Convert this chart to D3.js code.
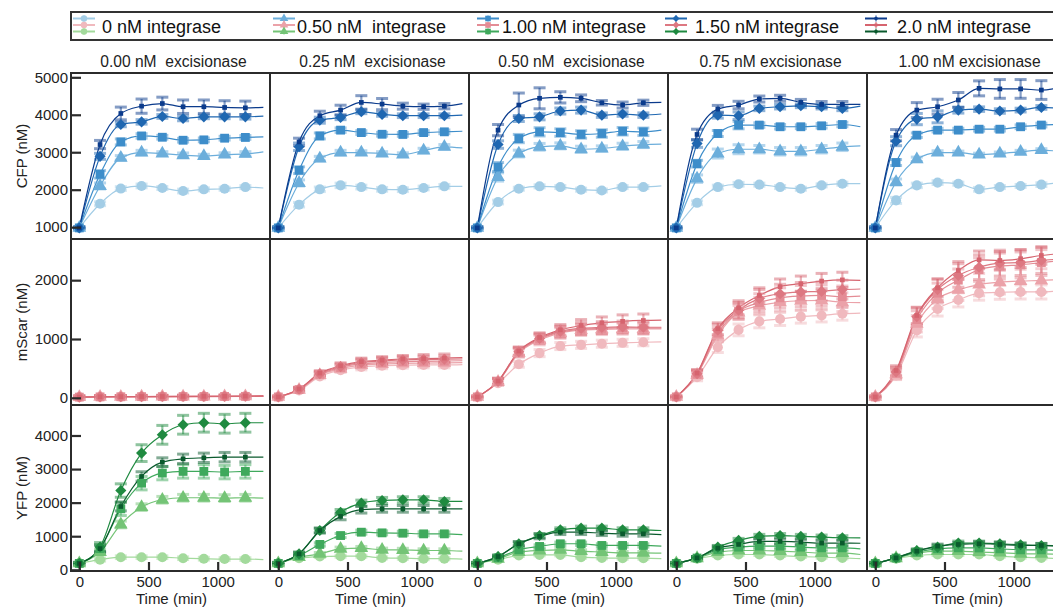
<!DOCTYPE html>
<html>
<head>
<meta charset="utf-8">
<script src="https://cdn.jsdelivr.net/npm/d3@7"></script>
<style>
  html, body { margin: 0; padding: 0; background: #fff; }
  svg { display: block; font-family: "Liberation Sans", Arial, Helvetica, sans-serif; }
</style>
</head>
<body>
<script>
// Sampling times (min) of the marked points; the trace continues to traceEnd.
const times = [0, 150, 300, 450, 600, 750, 900, 1050, 1200];
const traceEnd = 1330;

const integraseLabels = ["0 nM integrase", "0.50 nM  integrase", "1.00 nM integrase", "1.50 nM integrase", "2.0 nM integrase"];
const excisionaseLabels = ["0.00 nM  excisionase", "0.25 nM  excisionase", "0.50 nM  excisionase", "0.75 nM excisionase", "1.00 nM excisionase"];
const reporterLabels = ["CFP (nM)", "mScar (nM)", "YFP (nM)"];

const cfpTicks = [1000, 2000, 3000, 4000, 5000];
const mscarTicks = [0, 1000, 2000];
const yfpTicks = [0, 1000, 2000, 3000, 4000];
const timeTicks = [0, 500, 1000];

// CFP (nM). One row per integrase level; 9 sampled values then the value at traceEnd.
const cfp000 = [
  [980, 1625, 2030, 2100, 2045, 1965, 2010, 2025, 2070, 2045],
  [980, 2100, 2850, 2990, 2965, 2920, 2895, 2935, 2955, 3010],
  [980, 2410, 3275, 3435, 3400, 3320, 3330, 3375, 3395, 3410],
  [980, 2890, 3740, 3810, 3955, 3900, 3945, 3945, 3945, 3965],
  [980, 3205, 4035, 4230, 4300, 4215, 4215, 4195, 4185, 4200]];
const cfp025 = [
  [980, 1600, 2010, 2115, 2070, 2010, 2000, 2045, 2090, 2090],
  [980, 2180, 2830, 2990, 2990, 2965, 2935, 3045, 3145, 3115],
  [980, 2520, 3435, 3590, 3525, 3480, 3475, 3525, 3545, 3560],
  [980, 3145, 3855, 3930, 4080, 4010, 3975, 3975, 3975, 3990],
  [980, 3275, 3975, 4125, 4330, 4285, 4230, 4215, 4230, 4300]];
const cfp050 = [
  [980, 1670, 2025, 2090, 2070, 2000, 1980, 2070, 2070, 2100],
  [980, 2340, 2965, 3145, 3170, 3080, 3100, 3160, 3205, 3215],
  [980, 2605, 3365, 3545, 3525, 3475, 3500, 3560, 3545, 3590],
  [980, 3205, 3900, 3945, 4100, 4125, 3990, 4020, 3990, 4020],
  [980, 3590, 4260, 4440, 4465, 4440, 4320, 4260, 4320, 4330]];
const cfp075 = [
  [980, 1650, 2070, 2145, 2135, 2070, 2025, 2115, 2160, 2160],
  [980, 2295, 2965, 3080, 3080, 3025, 3025, 3080, 3145, 3170],
  [980, 2695, 3500, 3725, 3725, 3680, 3680, 3705, 3740, 3680],
  [980, 3230, 3990, 3975, 4170, 4215, 4240, 4215, 4170, 4230],
  [980, 3475, 4150, 4260, 4420, 4440, 4330, 4275, 4275, 4275]];
const cfp100 = [
  [980, 1715, 2115, 2190, 2160, 2010, 2070, 2100, 2135, 2190],
  [980, 2205, 2810, 2990, 2990, 2935, 2965, 3010, 3055, 3025],
  [980, 2725, 3455, 3590, 3590, 3615, 3615, 3680, 3725, 3740],
  [980, 3295, 3885, 3945, 4125, 4150, 4100, 4125, 4195, 4170],
  [980, 3455, 4125, 4215, 4395, 4705, 4690, 4690, 4660, 4725]];

// mScar (nM)
const mscar000 = [
  [12, 14, 16, 18, 19, 20, 21, 22, 23, 25],
  [12, 15, 17, 19, 20, 21, 22, 23, 24, 26],
  [12, 16, 18, 20, 21, 22, 23, 24, 25, 28],
  [12, 17, 19, 21, 22, 23, 24, 25, 27, 30],
  [12, 18, 20, 22, 23, 24, 26, 27, 29, 32]];
const mscar025 = [
  [15, 125, 365, 470, 525, 545, 555, 560, 560, 565],
  [15, 135, 385, 495, 555, 575, 585, 590, 595, 600],
  [15, 140, 400, 515, 580, 600, 615, 620, 625, 630],
  [15, 145, 410, 530, 600, 625, 645, 650, 655, 660],
  [15, 150, 420, 545, 615, 640, 660, 665, 675, 685]];
const mscar050 = [
  [15, 250, 570, 760, 880, 900, 920, 935, 945, 950],
  [15, 270, 760, 980, 1100, 1150, 1165, 1170, 1170, 1170],
  [15, 275, 775, 1000, 1115, 1165, 1180, 1190, 1185, 1185],
  [15, 280, 785, 1010, 1130, 1180, 1195, 1205, 1200, 1200],
  [15, 285, 795, 1025, 1155, 1230, 1275, 1300, 1315, 1320]];
const mscar075 = [
  [15, 350, 860, 1155, 1300, 1340, 1380, 1400, 1430, 1440],
  [15, 390, 1060, 1450, 1565, 1625, 1650, 1655, 1625, 1620],
  [15, 400, 1100, 1470, 1620, 1700, 1730, 1740, 1720, 1730],
  [15, 410, 1150, 1490, 1690, 1770, 1800, 1810, 1840, 1850],
  [15, 420, 1175, 1530, 1740, 1890, 1940, 1985, 2005, 1995]];
const mscar100 = [
  [15, 380, 1145, 1510, 1665, 1780, 1795, 1800, 1800, 1820],
  [15, 400, 1260, 1680, 1835, 1925, 1965, 1985, 1995, 2010],
  [15, 420, 1330, 1780, 2000, 2180, 2240, 2260, 2300, 2330],
  [15, 440, 1380, 1840, 2080, 2220, 2290, 2300, 2335, 2360],
  [15, 465, 1400, 1870, 2165, 2345, 2335, 2365, 2420, 2450]];

// YFP (nM)
const yfp000 = [
  [190, 300, 375, 375, 375, 345, 330, 320, 320, 305],
  [190, 530, 1350, 1865, 2085, 2145, 2145, 2135, 2145, 2135],
  [190, 630, 1815, 2580, 2880, 2930, 2930, 2910, 2930, 2930],
  [190, 680, 2360, 3475, 4020, 4320, 4380, 4350, 4380, 4380],
  [190, 630, 1885, 2780, 3205, 3305, 3335, 3355, 3355, 3355]];
const yfp025 = [
  [190, 345, 395, 405, 405, 355, 345, 330, 330, 320],
  [190, 375, 475, 625, 645, 595, 590, 575, 575, 555],
  [190, 425, 755, 1020, 1120, 1100, 1090, 1070, 1070, 1050],
  [190, 475, 1170, 1715, 1985, 2065, 2085, 2085, 2035, 2035],
  [190, 475, 1170, 1590, 1790, 1815, 1815, 1815, 1815, 1815]];
const yfp050 = [
  [190, 300, 425, 445, 445, 375, 355, 345, 345, 330],
  [190, 330, 525, 575, 595, 555, 530, 505, 505, 495],
  [190, 355, 595, 695, 775, 775, 725, 725, 725, 705],
  [190, 395, 775, 1020, 1190, 1240, 1240, 1190, 1190, 1170],
  [190, 395, 775, 995, 1120, 1120, 1090, 1070, 1070, 1050]];
const yfp075 = [
  [190, 330, 425, 455, 455, 425, 395, 375, 355, 330],
  [190, 345, 525, 575, 575, 555, 530, 495, 495, 455],
  [190, 350, 595, 675, 705, 705, 675, 655, 655, 625],
  [190, 355, 675, 875, 995, 1020, 995, 975, 955, 950],
  [190, 355, 645, 755, 845, 845, 825, 795, 795, 790]];
const yfp100 = [
  [190, 330, 425, 455, 455, 455, 405, 375, 355, 330],
  [190, 345, 495, 555, 555, 525, 510, 475, 475, 455],
  [190, 350, 525, 625, 655, 650, 625, 595, 595, 580],
  [190, 355, 575, 675, 795, 795, 775, 745, 725, 720],
  [190, 355, 555, 705, 755, 775, 755, 725, 725, 705]];

// Error half-widths (nM) at the sampled times
const cfpErr000 = [
  [25, 50, 50, 50, 40, 50, 40, 40, 40],
  [25, 80, 60, 60, 50, 60, 50, 50, 60],
  [25, 100, 80, 60, 50, 50, 50, 50, 50],
  [25, 80, 60, 60, 50, 60, 50, 50, 60],
  [25, 110, 170, 190, 170, 180, 180, 180, 180]];
const cfpErr025 = [
  [25, 60, 60, 60, 50, 50, 50, 50, 50],
  [25, 80, 60, 60, 50, 50, 50, 60, 60],
  [25, 90, 80, 60, 50, 50, 50, 50, 50],
  [25, 100, 80, 60, 50, 50, 50, 50, 50],
  [25, 100, 120, 130, 180, 150, 80, 70, 70]];
const cfpErr050 = [
  [25, 50, 40, 40, 40, 40, 40, 40, 40],
  [25, 110, 90, 90, 80, 80, 70, 80, 80],
  [25, 120, 110, 110, 100, 100, 100, 100, 100],
  [25, 100, 80, 80, 80, 80, 60, 60, 60],
  [25, 150, 320, 280, 150, 90, 60, 80, 70]];
const cfpErr075 = [
  [25, 50, 50, 50, 40, 40, 40, 40, 40],
  [25, 100, 120, 120, 100, 100, 100, 100, 100],
  [25, 90, 80, 100, 60, 60, 50, 60, 60],
  [25, 100, 80, 100, 60, 60, 50, 60, 60],
  [25, 140, 100, 100, 80, 80, 80, 80, 80]];
const cfpErr100 = [
  [25, 80, 60, 50, 40, 50, 40, 40, 50],
  [25, 80, 60, 50, 40, 40, 40, 40, 40],
  [25, 80, 60, 50, 50, 50, 50, 50, 50],
  [25, 120, 150, 160, 80, 60, 60, 50, 50],
  [25, 150, 200, 200, 200, 200, 250, 250, 250]];

const mscarErr000 = [
  [20, 20, 20, 20, 20, 20, 20, 20, 20],
  [20, 20, 20, 20, 20, 20, 20, 20, 20],
  [20, 20, 20, 20, 20, 20, 20, 20, 20],
  [20, 20, 20, 20, 20, 20, 20, 20, 20],
  [20, 20, 20, 20, 20, 20, 20, 20, 20]];
const mscarErr025 = [
  [15, 30, 40, 40, 50, 50, 50, 50, 50],
  [15, 30, 40, 40, 50, 50, 50, 50, 50],
  [15, 30, 40, 50, 60, 60, 60, 60, 60],
  [15, 30, 40, 50, 60, 60, 60, 60, 60],
  [15, 30, 40, 50, 60, 60, 60, 70, 70]];
const mscarErr050 = [
  [15, 40, 50, 60, 60, 60, 60, 60, 60],
  [15, 50, 70, 80, 90, 90, 90, 90, 90],
  [15, 50, 70, 80, 90, 90, 90, 90, 90],
  [15, 50, 70, 80, 90, 100, 100, 100, 100],
  [15, 50, 70, 80, 90, 100, 100, 110, 110]];
const mscarErr075 = [
  [15, 60, 90, 100, 110, 110, 110, 110, 110],
  [15, 60, 100, 120, 140, 150, 160, 160, 160],
  [15, 60, 100, 130, 150, 170, 180, 180, 180],
  [15, 60, 100, 130, 150, 160, 160, 160, 160],
  [15, 60, 100, 120, 130, 130, 130, 130, 130]];
const mscarErr100 = [
  [15, 70, 110, 120, 120, 120, 120, 120, 120],
  [15, 80, 140, 160, 180, 190, 200, 200, 200],
  [15, 80, 150, 170, 190, 200, 220, 220, 220],
  [15, 80, 150, 180, 200, 210, 220, 220, 220],
  [15, 80, 140, 150, 150, 150, 150, 150, 150]];

const yfpErr000 = [
  [30, 40, 40, 40, 40, 40, 40, 40, 40],
  [30, 80, 100, 100, 100, 100, 100, 100, 100],
  [30, 120, 200, 200, 200, 200, 200, 200, 200],
  [30, 130, 200, 250, 280, 280, 280, 280, 280],
  [30, 100, 130, 140, 130, 140, 140, 140, 140]];
const yfpErr025 = [
  [30, 30, 30, 30, 30, 30, 30, 30, 30],
  [30, 40, 40, 50, 50, 50, 50, 50, 50],
  [30, 40, 50, 60, 60, 60, 60, 60, 60],
  [30, 50, 70, 80, 90, 90, 90, 90, 90],
  [30, 50, 70, 100, 100, 100, 100, 100, 100]];
const yfpErr050 = [
  [30, 30, 30, 30, 30, 30, 30, 30, 30],
  [30, 40, 40, 40, 40, 40, 40, 40, 40],
  [30, 40, 50, 50, 50, 50, 50, 50, 50],
  [30, 40, 60, 60, 60, 60, 60, 60, 60],
  [30, 40, 60, 70, 70, 70, 70, 70, 70]];
const yfpErr075 = [
  [30, 30, 30, 30, 30, 30, 30, 30, 30],
  [30, 40, 50, 50, 50, 50, 50, 50, 50],
  [30, 40, 50, 60, 60, 60, 60, 60, 60],
  [30, 40, 50, 60, 60, 60, 60, 60, 60],
  [30, 40, 60, 70, 70, 70, 70, 70, 80]];
const yfpErr100 = [
  [30, 30, 30, 30, 30, 30, 30, 30, 30],
  [30, 40, 40, 40, 40, 40, 40, 40, 40],
  [30, 40, 50, 50, 50, 50, 50, 50, 50],
  [30, 40, 50, 60, 60, 60, 60, 60, 60],
  [30, 40, 50, 60, 60, 60, 60, 60, 60]];

// Colour ramps per reporter (lightest = 0 nM integrase)
const blues = ["#a3cde6", "#6caedb", "#3d8dca", "#1f67b1", "#0b3b8c"];
const reds = ["#f0b9be", "#eba2a9", "#e48c95", "#dd7882", "#d6646f"];
const greens = ["#a3da9c", "#74c476", "#3fa95c", "#1f8a40", "#0a5a2d"];

// ---- layout ----
const W = 1053, H = 611;
const gridLeft = 71, gridTop = 73, panelW = 199, panelH = 166;
const ink = "#2b2b2b";

const reporters = [
  { label: reporterLabels[0], data: [cfp000, cfp025, cfp050, cfp075, cfp100],
    err: [cfpErr000, cfpErr025, cfpErr050, cfpErr075, cfpErr100],
    colors: blues, domain: [684, 5115], ticks: cfpTicks },
  { label: reporterLabels[1], data: [mscar000, mscar025, mscar050, mscar075, mscar100],
    err: [mscarErr000, mscarErr025, mscarErr050, mscarErr075, mscarErr100],
    colors: reds, domain: [-122, 2700], ticks: mscarTicks },
  { label: reporterLabels[2], data: [yfp000, yfp025, yfp050, yfp075, yfp100],
    err: [yfpErr000, yfpErr025, yfpErr050, yfpErr075, yfpErr100],
    colors: greens, domain: [-36, 4908], ticks: yfpTicks }
];

// marker shapes by integrase level: circle, triangle, square, diamond, small dot
const shapes = [
  { type: d3.symbolCircle, size: 80, rot: 0 },
  { type: d3.symbolTriangle, size: 80, rot: 0 },
  { type: d3.symbolSquare, size: 78, rot: 0 },
  { type: d3.symbolSquare, size: 62, rot: 45 },
  { type: d3.symbolSquare, size: 22, rot: 0 }
];

const svg = d3.select("body").append("svg")
  .attr("width", W).attr("height", H);

const x = d3.scaleLinear().domain([-60, 1378]).range([0, panelW]);

reporters.forEach((rep, r) => {
  const y = d3.scaleLinear().domain(rep.domain).range([panelH, 0]);
  const top = gridTop + r * panelH;

  rep.data.forEach((seriesSet, c) => {
    const left = gridLeft + c * panelW;
    const g = svg.append("g").attr("transform", `translate(${left},${top})`);

    const line = d3.line()
      .x((d, i) => x(i < times.length ? times[i] : traceEnd))
      .y(d => y(d))
      .curve(d3.curveMonotoneX);

    // traces
    seriesSet.forEach((vals, s) => {
      g.append("path")
        .attr("d", line(vals))
        .attr("fill", "none")
        .attr("stroke", rep.colors[s])
        .attr("stroke-width", 1.2);
    });

    // error bars
    seriesSet.forEach((vals, s) => {
      const errs = rep.err[c][s];
      const eg = g.append("g")
        .attr("stroke", rep.colors[s])
        .attr("stroke-opacity", 0.5)
        .attr("fill", "none");
      times.forEach((t, i) => {
        const cx = x(t), y1 = y(vals[i] - errs[i]), y2 = y(vals[i] + errs[i]);
        eg.append("line").attr("x1", cx).attr("x2", cx).attr("y1", y1).attr("y2", y2)
          .attr("stroke-width", 2.2);
        [y1, y2].forEach(yy => eg.append("line")
          .attr("x1", cx - 6).attr("x2", cx + 6).attr("y1", yy).attr("y2", yy)
          .attr("stroke-width", 3));
      });
    });

    // markers
    seriesSet.forEach((vals, s) => {
      const sh = shapes[s];
      const sym = d3.symbol().type(sh.type).size(sh.size);
      g.selectAll(null).data(times).join("path")
        .attr("d", sym)
        .attr("transform", (t, i) => `translate(${x(t)},${y(vals[i])}) rotate(${sh.rot})`)
        .attr("fill", rep.colors[s]);
    });

    // panel frame
    g.append("rect")
      .attr("x", 0).attr("y", 0).attr("width", panelW).attr("height", panelH)
      .attr("fill", "none").attr("stroke", ink).attr("stroke-width", 2);

    // left axis for the first column
    if (c === 0) {
      const ay = g.append("g")
        .call(d3.axisLeft(y).tickValues(rep.ticks).tickSize(-10).tickPadding(3).tickFormat(d3.format("d")));
      ay.select(".domain").remove();
      ay.selectAll(".tick line").attr("stroke", ink).attr("stroke-width", 2.2);
      ay.selectAll(".tick text").attr("font-size", 15).attr("fill", "#222")
        .attr("font-family", "Liberation Sans, Arial, sans-serif");

      svg.append("text")
        .attr("transform", `translate(21,${top + panelH / 2}) rotate(-90)`)
        .attr("text-anchor", "middle").attr("dominant-baseline", "central")
        .attr("font-size", 15).attr("fill", "#222")
        .text(rep.label);
    }

    // bottom axis for the last row
    if (r === reporters.length - 1) {
      const ax = g.append("g").attr("transform", `translate(0,${panelH})`)
        .call(d3.axisBottom(x).tickValues(timeTicks).tickSize(-9).tickPadding(5).tickFormat(d3.format("d")));
      ax.select(".domain").remove();
      ax.selectAll(".tick line").attr("stroke", ink).attr("stroke-width", 2.2);
      ax.selectAll(".tick text").attr("font-size", 15).attr("fill", "#222")
        .attr("font-family", "Liberation Sans, Arial, sans-serif");

      g.append("text")
        .attr("x", panelW / 2 + 1).attr("y", panelH + 33)
        .attr("text-anchor", "middle").attr("font-size", 15).attr("fill", "#222")
        .text("Time (min)");
    }

    // column title
    if (r === 0) {
      g.append("text")
        .attr("x", panelW / 2 + 3).attr("y", -6.5)
        .attr("text-anchor", "middle").attr("font-size", 15.6).attr("fill", "#222")
        .style("white-space", "pre")
        .text(excisionaseLabels[c]);
    }
  });
});

// ---- legend ----
const legend = svg.append("g");
legend.append("rect")
  .attr("x", 71).attr("y", 12).attr("width", 1000).attr("height", 28)
  .attr("fill", "#fff").attr("stroke", "#333").attr("stroke-width", 2);

const legendIconX = [73, 273, 477, 665, 865];
const legendTextX = [102, 297, 502, 695, 897];
const iconRows = [18.5, 25, 31.5];

integraseLabels.forEach((lab, s) => {
  const ix = legendIconX[s];
  const sh = shapes[s];
  reporters.forEach((rep, k) => {
    const yy = iconRows[k];
    const col = rep.colors[s];
    legend.append("line")
      .attr("x1", ix).attr("x2", ix + 22).attr("y1", yy).attr("y2", yy)
      .attr("stroke", col).attr("stroke-width", 2);
    legend.append("line")
      .attr("x1", ix + 11).attr("x2", ix + 11).attr("y1", yy - 3).attr("y2", yy + 3)
      .attr("stroke", col).attr("stroke-width", 1.5).attr("stroke-opacity", 0.7);
    legend.append("path")
      .attr("d", d3.symbol().type(sh.type).size(sh.size * 0.4)())
      .attr("transform", `translate(${ix + 11},${yy}) rotate(${sh.rot})`)
      .attr("fill", col);
  });
  legend.append("text")
    .attr("x", legendTextX[s]).attr("y", 32.5)
    .attr("font-size", 18).attr("fill", "#111")
    .style("white-space", "pre")
    .text(lab);
});
</script>
</body>
</html>
